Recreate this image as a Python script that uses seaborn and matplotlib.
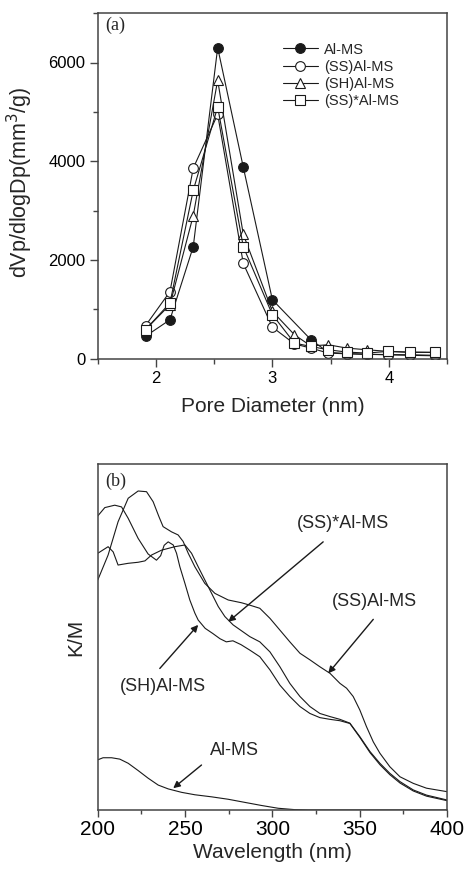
import matplotlib
matplotlib.use('Agg')
import matplotlib.pyplot as plt
from matplotlib.ticker import MultipleLocator
import seaborn as sns

# (a) pore size distribution
pore_x = [1.91, 2.12, 2.32, 2.53, 2.75, 3.0, 3.19, 3.33, 3.48, 3.64, 3.81, 3.99, 4.18, 4.40]
pore_x_al = [1.91, 2.12, 2.32, 2.53, 2.75, 3.0, 3.33, 3.48, 3.64, 3.81, 3.99, 4.18, 4.40]
al_ms = [455, 790, 2270, 6300, 3880, 1195, 389, 130, 105, 90, 80, 70, 60]
ss_al_ms = [670, 1360, 3860, 4950, 1930, 640, 300, 216, 115, 100, 90, 85, 80, 70]
sh_al_ms = [590, 1095, 2900, 5640, 2520, 960, 485, 260, 283, 216, 182, 150, 130, 130]
ssx_al_ms = [590, 1130, 3410, 5100, 2270, 893, 317, 249, 182, 135, 115, 148, 135, 128]

# (b) UV-vis DRS, K/M in arbitrary units
wl_ss = [200, 205.9, 211.6, 217.4, 223.1, 227.9, 231.7, 235.0, 237.4, 242.2, 246.0, 248.9,
         251.8, 255.6, 261.3, 267.1, 274.7, 282.3, 287.1, 292.8, 298.6, 304.3, 310.0, 315.8,
         321.5, 327.2, 333.0, 338.7, 342.5, 346.3, 350.1, 353.9, 357.8, 361.6, 367.3, 373.1,
         380.7, 388.3, 400]
km_ss = [0.665, 0.737, 0.833, 0.901, 0.922, 0.920, 0.891, 0.848, 0.819, 0.804, 0.795, 0.776,
         0.742, 0.703, 0.655, 0.626, 0.607, 0.599, 0.592, 0.583, 0.554, 0.520, 0.486, 0.453,
         0.434, 0.414, 0.395, 0.366, 0.352, 0.328, 0.289, 0.241, 0.197, 0.164, 0.125, 0.096,
         0.077, 0.063, 0.053]

wl_ssx = [200, 205.9, 208.8, 211.6, 217.4, 223.1, 227.0, 230.8, 236.5, 244.1, 249.9, 253.7,
          257.5, 261.3, 265.2, 269.0, 272.8, 277.5, 282.3, 287.1, 292.8, 298.6, 304.3, 310.0,
          315.8, 321.5, 327.2, 333.0, 338.7, 344.4, 350.1, 355.9, 361.6, 367.3, 373.1, 380.7,
          388.3, 400]
km_ssx = [0.742, 0.761, 0.746, 0.708, 0.713, 0.716, 0.720, 0.737, 0.751, 0.761, 0.766, 0.742,
          0.703, 0.665, 0.626, 0.588, 0.559, 0.535, 0.518, 0.501, 0.486, 0.457, 0.414, 0.366,
          0.328, 0.299, 0.279, 0.270, 0.262, 0.251, 0.212, 0.169, 0.135, 0.106, 0.082, 0.058,
          0.043, 0.029]

wl_sh = [200, 204.0, 209.7, 213.6, 217.4, 223.1, 228.8, 233.6, 236.0, 238.0, 240.3, 243.2,
         245.1, 247.0, 249.9, 252.7, 255.6, 257.5, 261.5, 265.9, 270.0, 273.6, 277.4, 282.0,
         287.1, 292.8, 298.6, 304.3, 310.0, 315.8, 321.5, 327.2, 333.0, 338.7, 344.4, 350.1,
         355.9, 361.6, 367.3, 373.1, 380.7, 388.3, 400]
km_sh = [0.850, 0.874, 0.881, 0.876, 0.843, 0.785, 0.740, 0.722, 0.735, 0.765, 0.775, 0.766,
         0.742, 0.703, 0.655, 0.607, 0.569, 0.549, 0.525, 0.510, 0.495, 0.486, 0.489, 0.478,
         0.462, 0.443, 0.405, 0.361, 0.328, 0.299, 0.279, 0.267, 0.262, 0.258, 0.250, 0.210,
         0.166, 0.131, 0.102, 0.078, 0.055, 0.040, 0.027]

wl_al = [200, 203.0, 207.9, 212.6, 217.4, 223.1, 228.8, 234.6, 240.3, 248.0, 255.6, 265.2,
         274.7, 284.2, 293.8, 303.3, 312.9, 320.5, 400]
km_al = [0.145, 0.151, 0.151, 0.147, 0.135, 0.114, 0.092, 0.072, 0.061, 0.051, 0.044, 0.038,
         0.031, 0.022, 0.013, 0.005, 0.001, 0.0, 0.0]

sns.set_style('ticks')
plt.rcParams['font.family'] = ['Liberation Sans', 'DejaVu Sans']
plt.rcParams['axes.edgecolor'] = '#444444'
plt.rcParams['axes.linewidth'] = 1.1
plt.rcParams['xtick.color'] = '#444444'
plt.rcParams['ytick.color'] = '#444444'
plt.rcParams['xtick.labelcolor'] = 'black'
plt.rcParams['ytick.labelcolor'] = 'black'

ink = '#1a1a1a'
fig = plt.figure(figsize=(4.68, 8.75), dpi=100)
ax1 = fig.add_axes([0.209, 0.590, 0.746, 0.395])
ax2 = fig.add_axes([0.209, 0.0743, 0.746, 0.3954])

# ---- panel (a)
line_kw = dict(color=ink, linewidth=0.8, markersize=7, markeredgecolor=ink, markeredgewidth=0.8)
sns.lineplot(x=pore_x_al, y=al_ms, marker='o', markerfacecolor=ink, label='Al-MS', ax=ax1, **line_kw)
sns.lineplot(x=pore_x, y=ss_al_ms, marker='o', markerfacecolor='white', label='(SS)Al-MS', ax=ax1, **line_kw)
sns.lineplot(x=pore_x, y=sh_al_ms, marker='^', markerfacecolor='white', label='(SH)Al-MS', ax=ax1, **line_kw)
sns.lineplot(x=pore_x, y=ssx_al_ms, marker='s', markerfacecolor='white', label='(SS)*Al-MS', ax=ax1, **line_kw)

ax1.set_xlim(1.5, 4.5)
ax1.set_ylim(0, 7000)
ax1.xaxis.set_major_locator(MultipleLocator(1))
ax1.xaxis.set_minor_locator(MultipleLocator(0.5))
ax1.yaxis.set_major_locator(MultipleLocator(2000))
ax1.yaxis.set_minor_locator(MultipleLocator(1000))
ax1.tick_params(which='major', direction='out', length=6, width=1, pad=3)
ax1.tick_params(which='minor', direction='out', length=3.5, width=1)
ax1.tick_params(axis='x', labelsize=12)
ax1.tick_params(axis='y', labelsize=12)
for s in ax1.spines.values():
    s.set_visible(True)

ax1.set_xlabel('Pore Diameter (nm)', fontsize=15)
ax1.set_ylabel('dVp/dlogDp(mm$^3$/g)', fontsize=15.5)
ax1.xaxis.set_label_coords(0.5, -0.11)
ax1.yaxis.set_label_coords(-0.18, 0.51)

ax1.legend(loc='upper left', bbox_to_anchor=(0.53, 0.915), frameon=False, fontsize=10.5,
           handlelength=2.4, handletextpad=0.4, labelspacing=0.22, borderpad=0, borderaxespad=0)
ax1.text(0.02, 0.965, '(a)', transform=ax1.transAxes, fontsize=13, va='center', ha='left',
         family=['Liberation Serif', 'DejaVu Serif'])

# ---- panel (b)
for wl, km in [(wl_ss, km_ss), (wl_ssx, km_ssx), (wl_sh, km_sh), (wl_al, km_al)]:
    sns.lineplot(x=wl, y=km, color=ink, linewidth=0.8, ax=ax2)

ax2.set_xlim(200, 400)
ax2.set_ylim(0, 1)
ax2.xaxis.set_major_locator(MultipleLocator(50))
ax2.xaxis.set_minor_locator(MultipleLocator(25))
ax2.set_yticks([])
ax2.tick_params(which='major', direction='out', length=5, width=1, pad=2, labelsize=15)
ax2.tick_params(which='minor', direction='out', length=3, width=1)
for s in ax2.spines.values():
    s.set_visible(True)

ax2.set_xlabel('Wavelength (nm)', fontsize=15)
ax2.set_ylabel('K/M', fontsize=15)
ax2.xaxis.set_label_coords(0.5, -0.095)
ax2.yaxis.set_label_coords(-0.035, 0.5)

arrow = dict(arrowstyle='-|>', color=ink, lw=1.0, mutation_scale=10, shrinkA=0, shrinkB=0)
notes = [
    ('(SS)*Al-MS', (340.6, 0.828), (329.1, 0.775), (274.7, 0.544)),
    ('(SS)Al-MS', (358.7, 0.602), (357.8, 0.551), (332.0, 0.395)),
    ('(SH)Al-MS', (237.4, 0.356), (235.5, 0.409), (257.5, 0.535)),
    ('Al-MS', (278.5, 0.173), (259.4, 0.130), (243.2, 0.063)),
]
for label, txy, start, tip in notes:
    ax2.annotate('', xy=tip, xytext=start, arrowprops=arrow)
    ax2.text(txy[0], txy[1], label, fontsize=13, ha='center', va='center')
ax2.text(0.02, 0.949, '(b)', transform=ax2.transAxes, fontsize=13, va='center', ha='left',
         family=['Liberation Serif', 'DejaVu Serif'])

fig.savefig('out.png', dpi=100)
